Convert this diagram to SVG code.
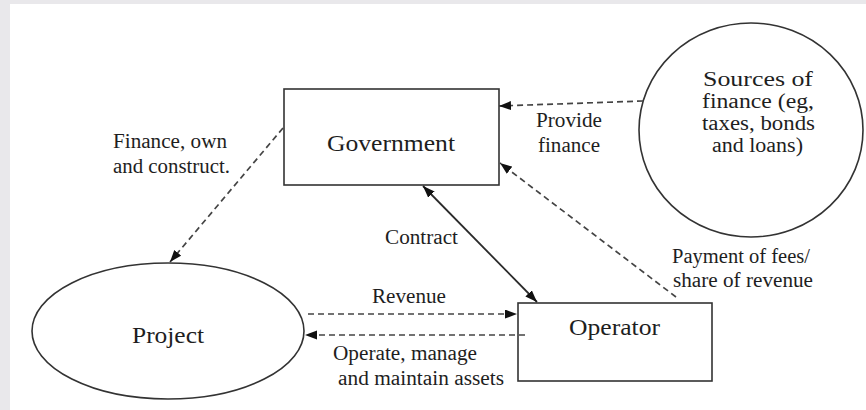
<svg xmlns="http://www.w3.org/2000/svg" width="866" height="410" viewBox="0 0 866 410">
<style>
.bg{fill:#e9e8eb}
.node{fill:#fff;stroke:#333;stroke-width:1.6}
.t{font-family:"Liberation Serif","Times New Roman",serif;fill:#1e1e1e}
.lbl{font-size:20px}
.big{font-size:24px}
.dash{fill:none;stroke:#444;stroke-width:1.7;stroke-dasharray:6 4}
.solid{fill:none;stroke:#2a2a2a;stroke-width:1.8}
</style>
<defs>
<marker id="ah" markerUnits="userSpaceOnUse" markerWidth="13" markerHeight="10" refX="12" refY="4.5" orient="auto-start-reverse">
<path d="M0,0 L12,4.5 L0,9 z" fill="#111"/>
</marker>
</defs>
<rect class="bg" x="0" y="0" width="866" height="410"/>
<rect x="10" y="4" width="856" height="406" fill="#fff"/>

<g id="government">
<rect class="node" x="284" y="89" width="215" height="96"/>
<text class="t big" x="327" y="151" textLength="128" lengthAdjust="spacingAndGlyphs">Government</text>
</g>

<g id="sources">
<ellipse class="node" cx="751" cy="130" rx="112" ry="107"/>
<text class="t lbl" x="703" y="86" textLength="110" lengthAdjust="spacingAndGlyphs">Sources of</text>
<text class="t lbl" x="702" y="108" textLength="112" lengthAdjust="spacingAndGlyphs">finance (eg,</text>
<text class="t lbl" x="702" y="130" textLength="113" lengthAdjust="spacingAndGlyphs">taxes, bonds</text>
<text class="t lbl" x="712" y="152" textLength="91" lengthAdjust="spacingAndGlyphs">and loans)</text>
</g>

<g id="project">
<ellipse class="node" cx="168" cy="331" rx="136" ry="68"/>
<text class="t big" x="132" y="343" textLength="72" lengthAdjust="spacingAndGlyphs">Project</text>
</g>

<g id="operator">
<rect class="node" x="518" y="303" width="194" height="78"/>
<text class="t big" x="569" y="335" textLength="91" lengthAdjust="spacingAndGlyphs">Operator</text>
</g>

<g id="connectors">
<line class="dash" x1="643" y1="101" x2="499" y2="106" marker-end="url(#ah)"/>
<line class="dash" x1="676" y1="297" x2="500" y2="163" marker-end="url(#ah)"/>
<line class="solid" x1="423" y1="186" x2="537" y2="302" marker-start="url(#ah)" marker-end="url(#ah)"/>
<line class="dash" x1="308" y1="314" x2="517" y2="314" marker-end="url(#ah)"/>
<line class="dash" x1="525" y1="335" x2="305" y2="335" marker-end="url(#ah)"/>
<line class="dash" x1="283" y1="128" x2="170" y2="262" marker-end="url(#ah)"/>
<text class="t lbl" x="536" y="127" textLength="66" lengthAdjust="spacingAndGlyphs">Provide</text>
<text class="t lbl" x="538" y="152" textLength="62" lengthAdjust="spacingAndGlyphs">finance</text>
<text class="t lbl" x="113" y="148" textLength="114" lengthAdjust="spacingAndGlyphs">Finance, own</text>
<text class="t lbl" x="113" y="173" textLength="117" lengthAdjust="spacingAndGlyphs">and construct.</text>
<text class="t lbl" x="385" y="244" textLength="73" lengthAdjust="spacingAndGlyphs">Contract</text>
<text class="t lbl" x="672" y="263" textLength="138" lengthAdjust="spacingAndGlyphs">Payment of fees/</text>
<text class="t lbl" x="673" y="287" textLength="140" lengthAdjust="spacingAndGlyphs">share of revenue</text>
<text class="t lbl" x="372" y="303" textLength="74" lengthAdjust="spacingAndGlyphs">Revenue</text>
<text class="t lbl" x="333" y="360" textLength="144" lengthAdjust="spacingAndGlyphs">Operate, manage</text>
<text class="t lbl" x="338" y="385" textLength="166" lengthAdjust="spacingAndGlyphs">and maintain assets</text>
</g>
</svg>
